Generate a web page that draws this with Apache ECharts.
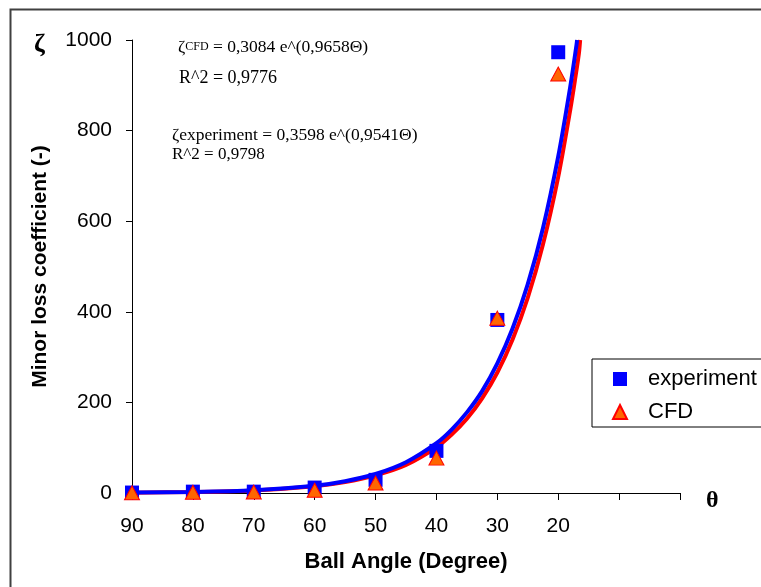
<!DOCTYPE html>
<html>
<head>
<meta charset="utf-8">
<script src="https://cdn.jsdelivr.net/npm/echarts@6/dist/echarts.min.js"></script>
<style>
  html, body { margin: 0; padding: 0; background: #fff; }
  #chart { width: 761px; height: 587px; }
</style>
</head>
<body>
<div id="chart"></div>
<script>
// measured points (ball angle in degrees -> minor loss coefficient)
const angles = [90, 80, 70, 60, 50, 40, 30, 20];
const experiment = [1, 3, 3, 12, 29, 93, 382, 973];
const cfd = [0.5, 1.5, 2, 6, 22, 77, 386, 925];

// exponential trend lines
const expFitAngles = [90, 80, 70, 60, 55, 50, 45, 40, 37.5, 35, 32.5, 30, 27.5, 25, 22.5, 20, 18, 17, 16.9];
const expFit = [0.9, 2.4, 6.3, 16, 26, 42, 68, 110, 140, 178, 225, 286, 363, 461, 585, 743, 899, 989, 1000];
const cfdFitAngles = [90, 80, 70, 60, 55, 50, 45, 40, 37.5, 35, 32.5, 30, 27.5, 25, 22.5, 20, 18, 17.2, 16.6, 16.4];
const cfdFit = [0.8, 2.1, 5.6, 15, 24, 39, 62, 101, 129, 164, 209, 266, 339, 431, 549, 698, 848, 916, 971, 1000];

const xTicks = [90, 80, 70, 60, 50, 40, 30, 20];

const zip = (xs, ys) => xs.map((x, i) => [x, ys[i]]);

const sans = "'Liberation Sans', Arial, sans-serif";
const serif = "'Liberation Serif', 'Times New Roman', serif";

const chart = echarts.init(document.getElementById("chart"));

chart.setOption({
    animation: false,
    backgroundColor: "#fff",
    grid: { left: 132, right: 81, top: 40, bottom: 94 },
    legend: {
        data: ["experiment", "CFD"],
        orient: "vertical",
        left: 592,
        top: 359,
        padding: [9, 30, 4, 20],
        itemGap: 11,
        itemWidth: 14,
        itemHeight: 14,
        borderColor: "#000",
        borderWidth: 1,
        textStyle: { fontFamily: sans, fontSize: 22, color: "#000", padding: [0, 0, 0, 16] }
    },
    xAxis: {
        type: "value",
        inverse: true,
        min: 0,
        max: 90,
        interval: 10,
        name: "Ball Angle (Degree)",
        nameLocation: "middle",
        nameGap: 58,
        nameTextStyle: { fontFamily: sans, fontSize: 22, fontWeight: "bold", color: "#000" },
        axisLine: { lineStyle: { color: "#000", width: 1 } },
        axisTick: { length: 7, lineStyle: { color: "#000" } },
        axisLabel: {
            margin: 23,
            fontFamily: sans,
            fontSize: 21,
            color: "#000",
            formatter: (v) => (xTicks.includes(v) ? String(v) : "")
        },
        splitLine: { show: false }
    },
    yAxis: {
        type: "value",
        position: "left",
        min: 0,
        max: 1000,
        interval: 200,
        name: "Minor loss coefficient (-)",
        nameLocation: "middle",
        nameGap: 81,
        nameRotate: 90,
        nameTextStyle: { fontFamily: sans, fontSize: 21, fontWeight: "bold", color: "#000" },
        axisLine: { show: true, onZero: false, lineStyle: { color: "#000", width: 1 } },
        axisTick: { show: true, length: 6, lineStyle: { color: "#000" } },
        axisLabel: { margin: 20, fontFamily: sans, fontSize: 21, color: "#000", formatter: (v) => String(v) },
        splitLine: { show: false }
    },
    graphic: [
        {
            type: "rect",
            left: 8, top: 7,
            shape: { width: 800, height: 640 },
            style: { fill: "none", stroke: "#404040", lineWidth: 2 },
            z: 100
        },
        {
            type: "text",
            left: 34, top: 32,
            style: { text: "ζ", font: "bold 26px " + serif, fill: "#000" }
        },
        {
            type: "text",
            left: 706, top: 489,
            style: { text: "θ", font: "bold 24px " + serif, fill: "#000" }
        },
        {
            type: "text",
            left: 178, top: 38,
            style: {
                text: "{a|ζ}{s|CFD}{a| = 0,3084 e^(0,9658Θ)}",
                rich: {
                    a: { fontFamily: serif, fontSize: 17.5, fill: "#000" },
                    s: { fontFamily: serif, fontSize: 12, fill: "#000" }
                }
            }
        },
        {
            type: "text",
            left: 179, top: 69,
            style: { text: "R^2 = 0,9776", font: "18px " + serif, fill: "#000" }
        },
        {
            type: "text",
            left: 172, top: 126,
            style: { text: "ζexperiment = 0,3598 e^(0,9541Θ)", font: "17.5px " + serif, fill: "#000" }
        },
        {
            type: "text",
            left: 172, top: 146,
            style: { text: "R^2 = 0,9798", font: "17px " + serif, fill: "#000" }
        }
    ],
    series: [
        {
            name: "cfdFit",
            type: "line",
            data: zip(cfdFitAngles, cfdFit),
            smooth: 0.3,
            showSymbol: false,
            lineStyle: { color: "#ff0000", width: 4 },
            z: 2
        },
        {
            name: "expFit",
            type: "line",
            data: zip(expFitAngles, expFit),
            smooth: 0.3,
            showSymbol: false,
            lineStyle: { color: "#0000ff", width: 4 },
            z: 3
        },
        {
            name: "experiment",
            type: "scatter",
            data: zip(angles, experiment),
            symbol: "rect",
            symbolSize: 14,
            clip: false,
            itemStyle: { color: "#0000ff", opacity: 1 },
            z: 4
        },
        {
            name: "CFD",
            type: "scatter",
            data: zip(angles, cfd),
            symbol: "triangle",
            symbolSize: [15, 14],
            clip: false,
            itemStyle: { color: "#ff6600", borderColor: "#ff0000", borderWidth: 1, opacity: 1 },
            z: 5
        }
    ]
});
</script>
</body>
</html>
